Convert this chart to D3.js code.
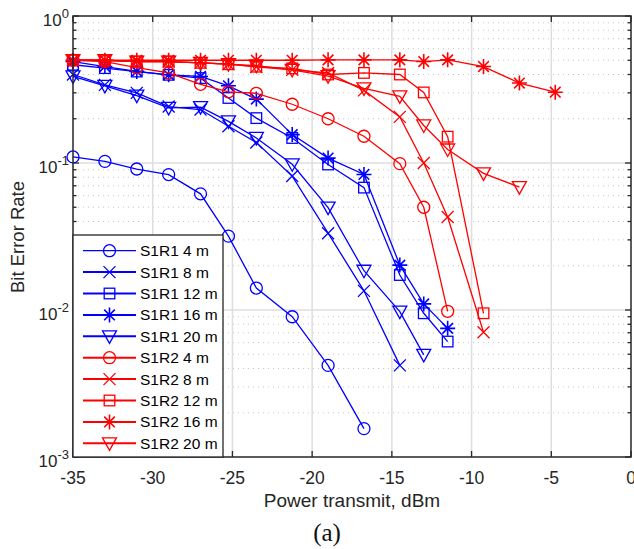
<!DOCTYPE html>
<html>
<head>
<meta charset="utf-8">
<script src="https://cdn.jsdelivr.net/npm/d3@7"></script>
<style>
    body { margin: 0; background: #fff; }
    svg text { font-family: "Liberation Sans", Arial, sans-serif; }
</style>
</head>
<body>
<svg id="chart" width="634" height="549"></svg>
<script>
// power steps (dBm) used by the measurements
let powers = [-35, -33, -31, -29, -27, -25.25, -23.5, -21.25, -19, -16.75, -14.5, -13, -11.5, -9.25, -7, -4.75]

let xTicks = [-35, -30, -25, -20, -15, -10, -5, 0]
let yTicks = [1e-3, 1e-2, 1e-1, 1]

// bit error rates, one array per link / distance
let s1r1_4 = [0.110, 0.1026, 0.091, 0.0834, 0.0617, 0.0318, 0.0141, 0.0090, 0.0042, 0.00156]
let s1r1_8 = [0.40, 0.34, 0.30, 0.242, 0.231, 0.178, 0.138, 0.0815, 0.0333, 0.0135, 0.0042]
let s1r1_12 = [0.466, 0.442, 0.419, 0.398, 0.378, 0.277, 0.202, 0.148, 0.0977, 0.068, 0.0173, 0.0095, 0.0061]
let s1r1_16 = [0.49, 0.453, 0.42, 0.398, 0.388, 0.335, 0.272, 0.156, 0.108, 0.0836, 0.0202, 0.011, 0.0075]
let s1r1_20 = [0.388, 0.335, 0.287, 0.237, 0.24, 0.192, 0.148, 0.098, 0.0497, 0.0185, 0.00975, 0.00495]
let s1r2_4 = [0.50, 0.49, 0.445, 0.41, 0.343, 0.305, 0.298, 0.251, 0.20, 0.152, 0.099, 0.050, 0.0098]
let s1r2_8 = [0.50, 0.50, 0.49, 0.49, 0.48, 0.47, 0.45, 0.43, 0.41, 0.312, 0.206, 0.100, 0.0429, 0.00706]
let s1r2_12 = [0.50, 0.50, 0.49, 0.49, 0.48, 0.47, 0.452, 0.44, 0.40, 0.41, 0.40, 0.302, 0.151, 0.0095]
let s1r2_16 = [0.50, 0.50, 0.50, 0.50, 0.50, 0.50, 0.50, 0.50, 0.503, 0.503, 0.503, 0.49, 0.503, 0.453, 0.35, 0.303]
let s1r2_20 = [0.50, 0.50, 0.49, 0.49, 0.48, 0.47, 0.46, 0.43, 0.39, 0.322, 0.284, 0.180, 0.1235, 0.085, 0.0686]

let seriesNames = ['S1R1 4 m', 'S1R1 8 m', 'S1R1 12 m', 'S1R1 16 m', 'S1R1 20 m',
    'S1R2 4 m', 'S1R2 8 m', 'S1R2 12 m', 'S1R2 16 m', 'S1R2 20 m']
let seriesValues = [s1r1_4, s1r1_8, s1r1_12, s1r1_16, s1r1_20, s1r2_4, s1r2_8, s1r2_12, s1r2_16, s1r2_20]
let seriesMarkers = ['circle', 'x', 'square', 'star', 'tri', 'circle', 'x', 'square', 'star', 'tri']

let series = seriesNames.map((name, i) => ({
    name: name,
    color: i < 5 ? '#0000ff' : '#ff0000',
    marker: seriesMarkers[i],
    points: seriesValues[i].map((v, j) => ({ x: powers[j], y: v }))
}))

let svg = d3.select('#chart')
let box = { left: 73, right: 631, top: 16, bottom: 457 }
let axisColor = '#262626'

let x = d3.scaleLinear().domain([-35, 0]).range([box.left, box.right])
let y = d3.scaleLog().domain([1e-3, 1]).range([box.bottom, box.top])

// grid
let grid = svg.append('g')
let minorVals = []
for (let d = 1e-3; d < 0.9; d *= 10) {
    for (let k = 2; k <= 9; k++) minorVals.push(d * k)
}
grid.selectAll('line.minor').data(minorVals).enter().append('line')
    .attr('x1', box.left).attr('x2', box.right)
    .attr('y1', d => y(d)).attr('y2', d => y(d))
    .attr('stroke', '#c8c8c8').attr('stroke-width', 1)
    .attr('stroke-dasharray', '1,4')
grid.selectAll('line.vmajor').data(xTicks.slice(1, -1)).enter().append('line')
    .attr('x1', d => x(d)).attr('x2', d => x(d))
    .attr('y1', box.top).attr('y2', box.bottom)
    .attr('stroke', '#dedede').attr('stroke-width', 1.5)
grid.selectAll('line.hmajor').data(yTicks.slice(1, -1)).enter().append('line')
    .attr('x1', box.left).attr('x2', box.right)
    .attr('y1', d => y(d)).attr('y2', d => y(d))
    .attr('stroke', '#dedede').attr('stroke-width', 1.5)

// ticks (inward, all four sides)
let ticks = svg.append('g').attr('stroke', axisColor).attr('stroke-width', 1.3)
xTicks.forEach(t => {
    ticks.append('line').attr('x1', x(t)).attr('x2', x(t)).attr('y1', box.bottom).attr('y2', box.bottom - 6)
    ticks.append('line').attr('x1', x(t)).attr('x2', x(t)).attr('y1', box.top).attr('y2', box.top + 6)
})
yTicks.forEach(t => {
    ticks.append('line').attr('x1', box.left).attr('x2', box.left + 6).attr('y1', y(t)).attr('y2', y(t))
    ticks.append('line').attr('x1', box.right).attr('x2', box.right - 6).attr('y1', y(t)).attr('y2', y(t))
})
minorVals.forEach(t => {
    ticks.append('line').attr('x1', box.left).attr('x2', box.left + 3.5).attr('y1', y(t)).attr('y2', y(t))
    ticks.append('line').attr('x1', box.right).attr('x2', box.right - 3.5).attr('y1', y(t)).attr('y2', y(t))
})

// markers
function drawMarker(g, type, cx, cy, color) {
    if (type === 'circle') {
        g.append('circle').attr('cx', cx).attr('cy', cy).attr('r', 6)
            .attr('fill', 'none').attr('stroke', color).attr('stroke-width', 1.3)
    } else if (type === 'square') {
        g.append('rect').attr('x', cx - 5.3).attr('y', cy - 5.3).attr('width', 10.6).attr('height', 10.6)
            .attr('fill', 'none').attr('stroke', color).attr('stroke-width', 1.3)
    } else if (type === 'x') {
        let s = 6
        g.append('path').attr('d', `M${cx - s},${cy - s}L${cx + s},${cy + s}M${cx - s},${cy + s}L${cx + s},${cy - s}`)
            .attr('stroke', color).attr('stroke-width', 1.3)
    } else if (type === 'star') {
        let s = 7.5, d = 5.3
        g.append('path').attr('d', `M${cx},${cy - s}L${cx},${cy + s}M${cx - s},${cy}L${cx + s},${cy}` +
            `M${cx - d},${cy - d}L${cx + d},${cy + d}M${cx - d},${cy + d}L${cx + d},${cy - d}`)
            .attr('stroke', color).attr('stroke-width', 1.6)
    } else if (type === 'tri') {
        let w = 7
        g.append('path').attr('d', `M${cx - w},${cy - 5.5}L${cx + w},${cy - 5.5}L${cx},${cy + 7}Z`)
            .attr('fill', 'none').attr('stroke', color).attr('stroke-width', 1.3)
    }
}

let line = d3.line().x(d => x(d.x)).y(d => y(d.y))
let plot = svg.append('g')
series.forEach(s => {
    plot.append('path').datum(s.points).attr('d', line)
        .attr('fill', 'none').attr('stroke', s.color).attr('stroke-width', 1.3)
    s.points.forEach(p => drawMarker(plot, s.marker, x(p.x), y(p.y), s.color))
})

// axis box
svg.append('rect').attr('x', box.left).attr('y', box.top)
    .attr('width', box.right - box.left).attr('height', box.bottom - box.top)
    .attr('fill', 'none').attr('stroke', axisColor).attr('stroke-width', 1.5)

// tick labels
svg.append('g').selectAll('text').data(xTicks).enter().append('text')
    .attr('x', d => x(d)).attr('y', 484)
    .attr('text-anchor', 'middle').attr('font-size', 17.5).attr('fill', axisColor)
    .text(d => d)

let yLab = svg.append('g').selectAll('text').data(yTicks).enter().append('text')
    .attr('x', 69).attr('y', d => y(d) + 10)
    .attr('text-anchor', 'end').attr('font-size', 17).attr('fill', axisColor)
yLab.append('tspan').text('10')
yLab.append('tspan').attr('dy', -8).attr('font-size', 13)
    .text(d => Math.round(Math.log10(d)))

// axis titles
svg.append('text').attr('x', 352).attr('y', 507).attr('text-anchor', 'middle')
    .attr('font-size', 19).attr('fill', axisColor).text('Power transmit, dBm')
svg.append('text').attr('transform', 'translate(24,237) rotate(-90)').attr('text-anchor', 'middle')
    .attr('font-size', 18.5).attr('fill', axisColor).text('Bit Error Rate')
svg.append('text').attr('x', 327).attr('y', 541).attr('text-anchor', 'middle')
    .attr('font-size', 25).attr('fill', '#111').style('font-family', '"Liberation Serif", "Times New Roman", serif')
    .text('(a)')

// legend
let lg = svg.append('g')
lg.append('rect').attr('x', box.left).attr('y', 235).attr('width', 150).attr('height', box.bottom - 235)
    .attr('fill', '#fff').attr('stroke', axisColor).attr('stroke-width', 1.3)
series.forEach((s, i) => {
    let ly = 250.7 + i * 21.4
    lg.append('line').attr('x1', 83).attr('x2', 136).attr('y1', ly).attr('y2', ly)
        .attr('stroke', s.color).attr('stroke-width', i === 0 ? 1.3 : 2)
    drawMarker(lg, s.marker, 109.5, ly, s.color)
    lg.append('text').attr('x', 140).attr('y', ly + 5.5).attr('font-size', 15.5).attr('fill', '#000')
        .text(s.name)
})
</script>
</body>
</html>
